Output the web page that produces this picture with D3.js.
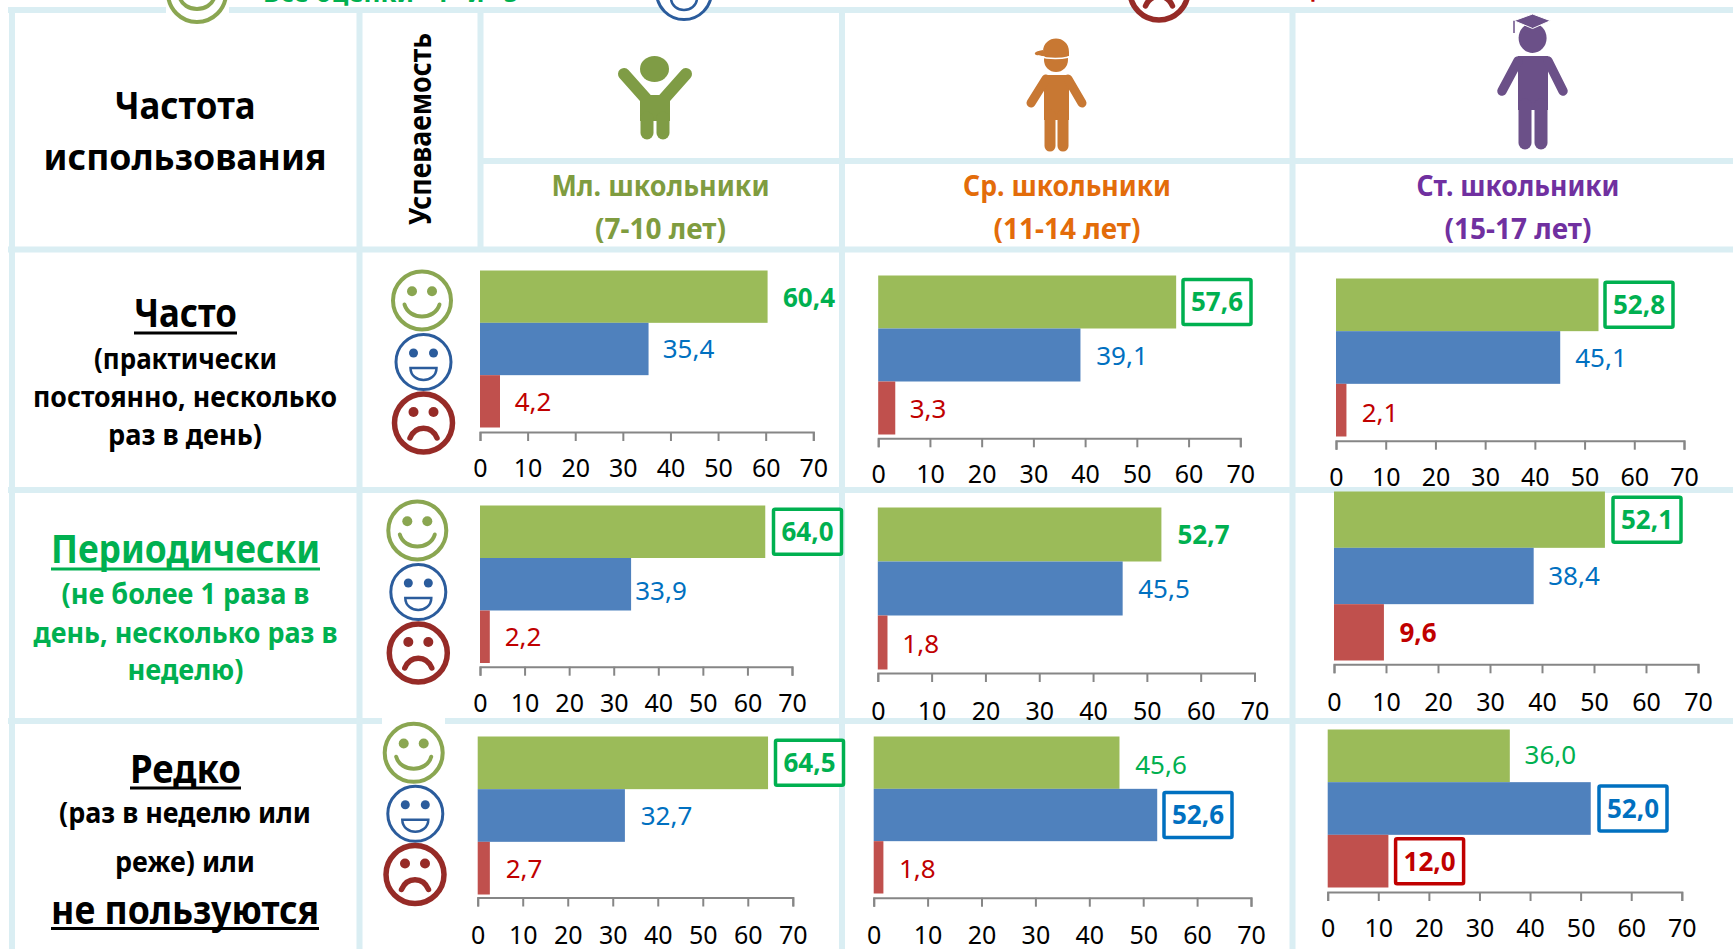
<!DOCTYPE html>
<html><head><meta charset="utf-8">
<script src="https://cdnjs.cloudflare.com/ajax/libs/d3/7.8.5/d3.min.js"></script>
<style>html,body{margin:0;padding:0;background:#fff;overflow:hidden}svg{display:block}text{font-family:"Noto Sans",sans-serif}</style>
</head><body><svg id="c" width="1733" height="949"></svg>
<script>
// ---------- data ----------
const frequencies = ['Часто', 'Периодически', 'Редко'];
const ageGroups = ['Мл. школьники', 'Ср. школьники', 'Ст. школьники'];
const ageRanges = ['(7-10 лет)', '(11-14 лет)', '(15-17 лет)'];
const grades = ['high', 'mid', 'low'];
const tickLabels = [0, 10, 20, 30, 40, 50, 60, 70];
// one value per panel: rows left to right, top to bottom
const highValues = [60.4, 57.6, 52.8, 64.0, 52.7, 52.1, 64.5, 45.6, 36.0];
const midValues  = [35.4, 39.1, 45.1, 33.9, 45.5, 38.4, 32.7, 52.6, 52.0];
const lowValues  = [4.2, 3.3, 2.1, 2.2, 1.8, 9.6, 2.7, 1.8, 12.0];

// ---------- layout ----------
const barColor = {high:'#9BBB59', mid:'#4F81BD', low:'#C0504D'};
const labelColor = {high:'#00B050', mid:'#0070C0', low:'#C00000'};
const panels = [
 {x0:480,  x1:813.3, top:270.5, bottom:427.5, axis:432,   tick:468, cx:[809,688.5,533],     dy:[1,0,0], bold:[1,0,0], box:[0,0,0]},
 {x0:878.2,x1:1240.3,top:275.5, bottom:434.5, axis:438.3, tick:474, cx:[1217,1122,928],     dy:[0,1,1], bold:[1,0,0], box:[1,0,0]},
 {x0:1336,x1:1684,top:278.5, bottom:436.5, axis:440.7, tick:477, cx:[1639,1601,1380],    dy:[0,0,2], bold:[1,0,0], box:[1,0,0]},
 {x0:480,  x1:792,  top:505.5, bottom:663,axis:666.7, tick:703, cx:[807.5,661,523],     dy:[0,6,0], bold:[1,0,0], box:[1,0,0]},
 {x0:877.8,x1:1254.5,top:507.5,bottom:669.5, axis:673,   tick:711, cx:[1203.5,1164,920.7], dy:[0,0,1], bold:[1,0,0], box:[0,0,0]},
 {x0:1334, x1:1698, top:491.5, bottom:660.5, axis:664.3, tick:702, cx:[1647,1574,1418],    dy:[0,0,0], bold:[1,0,1], box:[1,0,0]},
 {x0:477.7,x1:792.8,top:736.5, bottom:894.5, axis:897.5, tick:935, cx:[809.5,666.5,524],   dy:[0,0,0], bold:[1,0,0], box:[1,0,0]},
 {x0:873.7,x1:1251, top:736.5, bottom:893.5, axis:897.7, tick:935, cx:[1161,1198,917.3],   dy:[2,0,1], bold:[0,1,0], box:[0,1,0]},
 {x0:1327.7,x1:1681.8,top:729.5,bottom:887.5,axis:892,   tick:928, cx:[1550.4,1633,1429.6],dy:[-1,0,0], bold:[0,1,1], box:[0,1,1]}
];
const svg = d3.select('#c');

// ---------- frame ----------
const gridColor = '#DAEEF3';
const gridLines = [
 [8,10,1733,10],[480,161,1733,161],[8,249.5,1733,249.5],[8,490,1733,490],[8,721,1733,721],
 [12,7,12,949],[359.5,7,359.5,949],[480.5,7,480.5,250],[842,7,842,949],[1292.5,7,1292.5,949]
];
svg.append('g').selectAll('line').data(gridLines).join('line')
  .attr('x1',d=>d[0]).attr('y1',d=>d[1]).attr('x2',d=>d[2]).attr('y2',d=>d[3])
  .attr('stroke',gridColor).attr('stroke-width',6);
svg.append('rect').attr('x',166).attr('y',5).attr('width',63).attr('height',12).attr('fill','#fff');
svg.append('rect').attr('x',382).attr('y',717).attr('width',63).attr('height',10).attr('fill','#fff');

// ---------- text helper ----------
function txt(s,cx,y,size,len,fill,opt={}){
  const t = svg.append('text').attr('x',cx).attr('y',y).attr('text-anchor','middle')
    .attr('font-size',size).attr('font-weight',opt.weight||700).attr('fill',fill).text(s);
  if(len) t.attr('textLength',len).attr('lengthAdjust','spacingAndGlyphs');
  if(opt.rotate) t.attr('transform',`rotate(-90 ${cx} ${y})`);
  if(opt.under) svg.append('line').attr('x1',cx-len/2).attr('x2',cx+len/2).attr('y1',y+opt.under).attr('y2',y+opt.under)
      .attr('stroke',fill).attr('stroke-width',3);
  return t;
}
// header
txt('Частота',185,119,37,141,'#000');
txt('использования',185,170,36,283,'#000');
txt('Успеваемость',431,129,31,192,'#000',{rotate:true});
const ageColor = ['#7F9C3F','#E36C0A','#7030A0'];
const ageCx = [660.5,1067,1518], ageW=[218,208,203], rangeW=[131,147,147];
ageGroups.forEach((g,i)=>{ txt(g,ageCx[i],196,28,ageW[i],ageColor[i]); txt(ageRanges[i],ageCx[i],239,28,rangeW[i],ageColor[i]); });
// row titles
txt(frequencies[0],185.5,327,39,103,'#000',{under:6});
txt('(практически',185.5,369,28,183,'#000');
txt('постоянно, несколько',185,406.5,28,304,'#000');
txt('раз в день)',185,445,28,154,'#000');
txt(frequencies[1],185.5,563,39,269,'#00B050',{under:6});
txt('(не более 1 раза в',185.5,604,28,248,'#00B050');
txt('день, несколько раз в',185.5,642.5,28,304,'#00B050');
txt('неделю)',185.5,680,28,116,'#00B050');
txt(frequencies[2],185.5,782.5,39,111,'#000',{under:5.5});
txt('(раз в неделю или',185,822.5,28,252,'#000');
txt('реже) или',185,872,28,140,'#000');
txt('не пользуются',185,923.5,40,268,'#000',{under:5});
// captions cropped by the top edge of the picture
txt('Все оценки "4" и "5"',397,2,26,268,'#00B050');
txt('оценки',1328,-2.5,26,80,'#C00000');

// ---------- faces ----------
const faceColor = {high:'#8AA651', mid:'#2B5C9C', low:'#962B27'};
function face(kind,cx,cy){
  const g = svg.append('g').attr('transform',`translate(${cx},${cy})`);
  const c = faceColor[kind];
  const r = {high:29,mid:27.5,low:29}[kind], sw={high:4,mid:3,low:5.5}[kind];
  g.append('circle').attr('r',r).attr('fill','#fff').attr('stroke',c).attr('stroke-width',sw);
  const ey = {high:-9.3,mid:-9,low:-11}[kind];
  [-10,10].forEach(dx=>g.append('circle').attr('cx',dx).attr('cy',ey).attr('r',kind==='mid'?4.5:5).attr('fill',c));
  const m = {high:'M-17.5,4 C-13,20 13,20 17.5,4', mid:'M-13,6 L13,6 C13,14 6,18 0,18 C-6,18 -13,14 -13,6 Z', low:'M-13.5,15 C-8,2 8,2 13.5,15'}[kind];
  g.append('path').attr('d',m).attr('fill','none').attr('stroke',c).attr('stroke-width',{high:4,mid:2.5,low:5.5}[kind]).attr('stroke-linecap','round');
}
[[422,300.5,423.5,362,423.5,423],[417.3,530.5,418.3,592,418.3,653],[413.7,752.8,415.3,813.8,415,874.5]].forEach(p=>{
  face('high',p[0],p[1]); face('mid',p[2],p[3]); face('low',p[4],p[5]);
});
face('high',197,-7); face('mid',684,-8); face('low',1159,-9);

// ---------- figures ----------
function limb(g,pts,w,c){ g.append('path').attr('d',d3.line()(pts)).attr('fill','none').attr('stroke',c).attr('stroke-width',w).attr('stroke-linecap','round').attr('stroke-linejoin','round'); }
// junior
(function(){ const c='#7F9C45', g=svg.append('g');
  g.append('ellipse').attr('cx',654.5).attr('cy',69).attr('rx',14.5).attr('ry',13).attr('fill',c);
  limb(g,[[624,74],[648,101]],12,c); limb(g,[[686,74],[662,101]],12,c);
  g.append('rect').attr('x',640).attr('y',95).attr('width',30).attr('height',26).attr('fill',c);
  limb(g,[[647,118],[647,133]],13,c); limb(g,[[663,118],[663,133]],13,c);
})();
// middle
(function(){ const c='#C87833', g=svg.append('g');
  g.append('ellipse').attr('cx',1056).attr('cy',60).attr('rx',12).attr('ry',12).attr('fill',c);
  g.append('path').attr('d','M1043,52 C1043,34 1069,34 1069,52 L1069,56 C1060,58 1045,57 1036,55 C1033,53 1036,51 1043,50 Z').attr('fill',c);
  g.append('path').attr('d','M1038,56 C1048,59 1060,59 1069,57').attr('fill','none').attr('stroke','#fff').attr('stroke-width',1.5);
  g.append('rect').attr('x',1044).attr('y',75).attr('width',25).attr('height',45).attr('fill',c);
  limb(g,[[1046,79],[1031,103]],9,c); limb(g,[[1068,79],[1082,103]],9,c);
  limb(g,[[1050,115],[1050,146]],11,c); limb(g,[[1063,115],[1063,146]],11,c);
})();
// senior
(function(){ const c='#6B5088', g=svg.append('g');
  g.append('ellipse').attr('cx',1532.6).attr('cy',38).attr('rx',14).attr('ry',15).attr('fill',c);
  g.append('path').attr('d','M1514,20.7 L1532.6,14 L1550.4,20.7 L1532.6,28.5 Z').attr('fill',c).attr('stroke','#fff').attr('stroke-width',1);
  g.append('line').attr('x1',1514).attr('x2',1514).attr('y1',20.7).attr('y2',33).attr('stroke',c).attr('stroke-width',1.5);
  g.append('rect').attr('x',1518).attr('y',56).attr('width',30).attr('height',54).attr('fill',c);
  limb(g,[[1518,61],[1502,91]],9.5,c); limb(g,[[1548,61],[1563,91]],9.5,c);
  limb(g,[[1525,105],[1525,143]],13,c); limb(g,[[1541,105],[1541,143]],13,c);
})();

// ---------- panels ----------
const fmt = v => v.toFixed(1).replace('.',',');
panels.forEach((p,i)=>{
  const values = [highValues[i],midValues[i],lowValues[i]];
  const x = d3.scaleLinear().domain([0,70]).range([p.x0,p.x1]);
  const y = d3.scaleBand().domain(grades).range([p.top,p.bottom]);
  const g = svg.append('g');
  g.selectAll('rect').data(grades).join('rect')
    .attr('x',x(0)).attr('y',d=>y(d)).attr('height',y.bandwidth())
    .attr('width',(d,k)=>x(values[k])-x(0)).attr('fill',d=>barColor[d]);
  const ax = g.append('g').attr('transform',`translate(0,${p.axis})`)
    .call(d3.axisBottom(x).tickValues(tickLabels).tickSize(9).tickFormat(d3.format('d')));
  ax.selectAll('path,line').attr('stroke','#868686').attr('stroke-width',2);
  ax.selectAll('text').attr('y',p.tick-p.axis).attr('dy','.36em').attr('font-size',25).attr('font-family','"Noto Sans",sans-serif').attr('fill','#000');
  grades.forEach((d,k)=>{
    const cy = y(d)+y.bandwidth()/2+p.dy[k];
    if(p.box[k]) g.append('rect').attr('x',p.cx[k]-34).attr('y',cy-22.5).attr('width',68).attr('height',45).attr('rx',1.5)
      .attr('fill','#fff').attr('stroke',labelColor[d]).attr('stroke-width',3.5);
    g.append('text').attr('x',p.cx[k]).attr('y',cy).attr('dy','.36em').attr('text-anchor','middle')
      .attr('font-size',26).attr('font-weight',p.bold[k]?700:400).attr('fill',labelColor[d]).text(fmt(values[k]));
  });
});
</script></body></html>
